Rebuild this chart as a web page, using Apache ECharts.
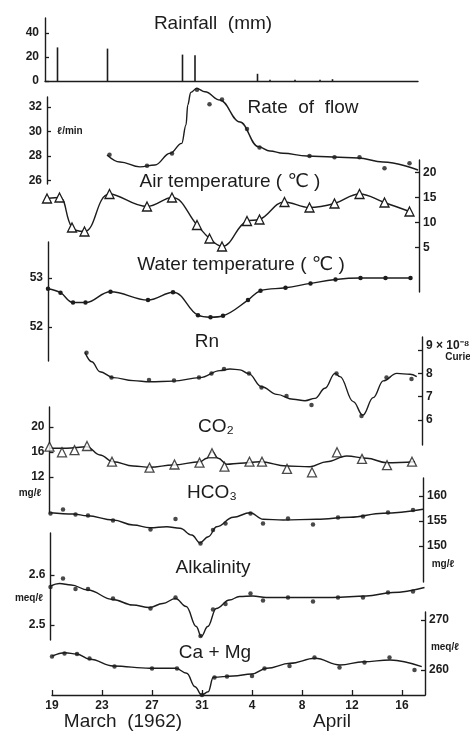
<!DOCTYPE html>
<html>
<head>
<meta charset="utf-8">
<script src="https://cdn.jsdelivr.net/npm/echarts@6/dist/echarts.min.js"></script>
<style>
html, body { margin: 0; background: #fff; }
#main { width: 470px; height: 733px; }
</style>
</head>
<body>
<div id="main"></div>
<script>
// x = days counted from 19 March 1962 (0) to 17 April (29)
var days = [0, 1, 2, 3, 5, 8, 10, 12, 13, 14, 16, 17, 19, 21, 23, 25, 27, 29];
var dateTicks = [0, 4, 8, 12, 16, 20, 24, 28];

var rainDays = [1, 5, 11, 12, 17, 18, 20, 22, 23];
var rainMm = [28, 27, 22, 21.5, 6, 1, 1, 1, 1.5];

var flowDays = [5, 8, 10, 12, 13, 14, 16, 17, 21, 23, 25, 27, 29];
var flowVals = [28.1, 27.2, 28.2, 33.4, 32.2, 32.6, 30.2, 28.7, 28.0, 27.9, 27.9, 27.0, 27.4];
var flowCurveX = [4.8, 5.84, 7.44, 8.64, 9.84, 10.78, 11.12, 11.26, 11.5, 11.98, 12.64, 13.84, 15.44, 16.9, 17.84, 18.88, 20.8, 22.88, 24.88, 26.88, 29.68];
var flowCurveY = [28.08, 27.51, 27.11, 27.27, 28.22, 29.03, 30.52, 32.15, 33.18, 33.5, 33.23, 32.55, 30.76, 28.76, 28.41, 28.22, 28.0, 27.92, 27.84, 27.51, 26.86];

var airVals = [14.8, 15.0, 9.0, 8.2, 15.7, 13.2, 15.0, 9.5, 6.8, 5.2, 10.3, 10.6, 14.1, 13.0, 13.8, 15.7, 14.0, 12.2];

var waterVals = [52.78, 52.70, 52.50, 52.50, 52.72, 52.55, 52.71, 52.24, 52.20, 52.23, 52.55, 52.74, 52.80, 52.89, 52.97, 53.0, 53.0, 53.0];

var rnDays = [3, 5, 8, 10, 12, 13, 14, 16, 17, 19, 21, 23, 25, 27, 29];
var rnVals = [8.88, 7.82, 7.72, 7.69, 7.82, 8.0, 8.19, 8.0, 7.39, 7.03, 6.64, 8.0, 6.17, 7.82, 7.76];
var rnCurveX = [2.88, 3.42, 4.08, 5.14, 6.74, 8.08, 9.94, 12.08, 13.68, 14.48, 15.28, 15.94, 17.02, 18.22, 19.54, 20.48, 21.28, 22.08, 22.88, 23.28, 24.34, 25.1, 25.94, 26.74, 27.82, 28.88, 29.42];
var rnCurveY = [8.9, 8.5, 8.07, 7.82, 7.69, 7.64, 7.67, 7.82, 8.12, 8.19, 8.15, 8.0, 7.43, 7.1, 6.89, 6.83, 6.93, 7.36, 8.0, 7.86, 6.79, 6.21, 6.96, 7.68, 8.0, 7.96, 7.86];

var co2Vals = [16.85, 15.95, 16.3, 16.96, 14.45, 13.5, 14.0, 14.3, 15.8, 13.65, 14.45, 14.45, 13.3, 12.75, 15.95, 14.9, 13.9, 14.45];
var co2CurveX = [0, 1.38, 2.98, 4.04, 5.1, 6.7, 8.04, 9.9, 12.04, 12.58, 13.02, 13.5, 14.18, 15.24, 16.84, 18.98, 20.84, 22.18, 23.78, 25.38, 26.98, 29.24];
var co2CurveY = [16.59, 16.59, 16.85, 15.52, 14.45, 13.76, 13.55, 13.92, 14.45, 14.99, 16.05, 14.99, 14.03, 14.19, 14.45, 13.76, 13.65, 14.45, 15.36, 14.99, 14.29, 14.45];

var hco3Vals = [156.5, 157.3, 156.3, 156.1, 155.1, 153.3, 155.4, 150.5, 153.2, 154.5, 156.5, 154.5, 155.5, 154.3, 155.7, 155.9, 156.7, 157.2];
var hco3CurveX = [0, 1.82, 2.94, 5.02, 6.62, 7.96, 9.3, 10.36, 11.3, 11.96, 12.62, 13.3, 14.62, 15.96, 17.02, 18.62, 21.3, 23.96, 26.62, 29.8];
var hco3CurveY = [156.66, 156.4, 156.06, 155.2, 154.2, 153.66, 153.86, 153.54, 152.2, 150.66, 151.86, 153.86, 155.74, 156.66, 155.34, 155.2, 155.34, 155.74, 156.54, 157.34];

var alkVals = [2.576, 2.593, 2.572, 2.572, 2.553, 2.533, 2.555, 2.478, 2.531, 2.542, 2.563, 2.549, 2.555, 2.547, 2.555, 2.555, 2.565, 2.567];
var alkCurveX = [0, 0.72, 1.66, 2.98, 4.98, 6.58, 7.92, 8.98, 10.0, 10.86, 11.66, 12.06, 12.58, 13.26, 14.32, 15.12, 16.18, 17.26, 19.92, 22.58, 25.26, 27.38, 29.92];
var alkCurveY = [2.578, 2.583, 2.58, 2.57, 2.551, 2.54, 2.535, 2.543, 2.553, 2.537, 2.497, 2.477, 2.497, 2.533, 2.55, 2.557, 2.558, 2.555, 2.555, 2.555, 2.558, 2.565, 2.575];

var camgVals = [262.7, 263.3, 263.2, 262.3, 260.7, 260.3, 260.3, 255.0, 258.5, 258.7, 258.8, 260.3, 260.8, 262.5, 260.5, 261.5, 262.5, 260.0];
var camgCurveX = [0.02, 1.04, 1.98, 3.04, 4.9, 7.84, 9.9, 10.78, 11.44, 11.98, 12.5, 12.9, 14.5, 15.98, 17.18, 19.04, 21.04, 23.04, 24.9, 27.04, 29.58];
var camgCurveY = [262.8, 263.46, 263.2, 262.14, 260.8, 260.34, 260.34, 259.34, 256.66, 255.0, 255.66, 258.54, 258.8, 259.2, 260.34, 261.34, 262.34, 261.0, 261.66, 262.0, 260.66];

var ink = '#1c1c1c';
var pxPerDay = 12.5;

function pairs(xs, ys) {
	return xs.map(function(x, i) { return [x, ys[i]]; });
}

var grids = [], xAxes = [], yAxes = [], series = [];

// one stacked panel = one grid with its own x and y axis
function addPanel(p) {
	var i = grids.length;
	grids.push({ left: p.left, top: p.top, width: p.width, height: p.height, containLabel: false, outerBoundsMode: 'none' });
	xAxes.push({
		type: 'value', gridIndex: i, min: 0, max: p.width / pxPerDay,
		show: !!p.xShow,
		axisLine: { show: true, onZero: false, lineStyle: { color: ink, width: 1.4 } },
		axisTick: { show: !!p.xTicks, inside: true, length: 5, customValues: dateTicks, lineStyle: { color: ink, width: 1.3 } },
		axisLabel: {
			show: !!p.xTicks, customValues: dateTicks, margin: 5,
			color: ink, fontSize: 12, fontWeight: 'bold', fontFamily: 'Liberation Sans',
			formatter: function(v) { return v <= 12 ? String(19 + v) : String(v - 12); }
		},
		splitLine: { show: false }
	});
	yAxes.push({
		type: 'value', gridIndex: i, min: p.min, max: p.max, position: p.side,
		axisLine: { show: true, onZero: false, lineStyle: { color: ink, width: 1.4 } },
		axisTick: { show: true, inside: true, length: 4, customValues: p.ticks, lineStyle: { color: ink, width: 1.3 } },
		axisLabel: {
			customValues: p.ticks, margin: p.margin || 5,
			color: ink, fontSize: 12, fontWeight: 'bold', fontFamily: 'Liberation Sans',
			formatter: p.fmt || function(v) { return String(v); },
			rich: p.rich
		},
		splitLine: { show: false }
	});
	return i;
}

function curve(i, data) {
	series.push({
		type: 'line', xAxisIndex: i, yAxisIndex: i, data: data, clip: false,
		showSymbol: false, smooth: 0.4, smoothMonotone: 'x',
		lineStyle: { color: ink, width: 1.4 }
	});
}
function dots(i, data) {
	series.push({
		type: 'scatter', xAxisIndex: i, yAxisIndex: i, data: data, clip: false,
		symbol: 'circle', symbolSize: 4.5, itemStyle: { color: ink }
	});
}
function triangles(i, data, withLine) {
	series.push({
		type: withLine ? 'line' : 'scatter', xAxisIndex: i, yAxisIndex: i, data: data, clip: false,
		symbol: 'triangle', symbolSize: 9, showSymbol: true, smooth: 0.4,
		lineStyle: { color: ink, width: 1.4 },
		itemStyle: { color: '#fff', borderColor: ink, borderWidth: 1.3 },
		z: 5
	});
}

// rainfall
var pRain = addPanel({ left: 45, top: 18, width: 373, height: 63, min: 0, max: 52.5, ticks: [0, 20, 40], side: 'left', xShow: true, margin: 6 });
series.push({
	type: 'bar', xAxisIndex: pRain, yAxisIndex: pRain, data: pairs(rainDays, rainMm),
	barWidth: 1.6, itemStyle: { color: ink }
});

// rate of flow
var pFlow = addPanel({ left: 47, top: 97, width: 371, height: 87, min: 25.72, max: 32.8, ticks: [26, 28, 30, 32], side: 'left' });
curve(pFlow, pairs(flowCurveX, flowCurveY));
dots(pFlow, pairs(flowDays, flowVals));

// air temperature
var pAir = addPanel({ left: 47, top: 160, width: 372, height: 132, min: -3.9, max: 22.5, ticks: [5, 10, 15, 20], side: 'right', margin: 4 });
triangles(pAir, pairs(days, airVals), true);

// water temperature
var pWater = addPanel({ left: 48, top: 242, width: 372, height: 119, min: 51.306, max: 53.735, ticks: [52, 53], side: 'left' });
series.push({
	type: 'line', xAxisIndex: pWater, yAxisIndex: pWater, data: pairs(days, waterVals),
	symbol: 'circle', symbolSize: 4.5, showSymbol: true, smooth: 0.4,
	lineStyle: { color: ink, width: 1.4 }, itemStyle: { color: ink }
});

// Rn
var pRn = addPanel({ left: 49, top: 337, width: 373, height: 108, min: 4.93, max: 9.56, ticks: [6, 7, 8, 9], side: 'right', margin: 4,
	fmt: function(v) { return v === 9 ? '{up|9 × 10⁻⁸}' : String(v); },
	rich: { up: { color: ink, fontSize: 12, fontWeight: 'bold', fontFamily: 'Liberation Sans', padding: [0, 0, 9, 0] } } });
curve(pRn, pairs(rnCurveX, rnCurveY));
dots(pRn, pairs(rnDays, rnVals));

// CO2
var pCo2 = addPanel({ left: 49.5, top: 407, width: 373, height: 106, min: 6.24, max: 23.2, ticks: [12, 16, 20], side: 'left' });
curve(pCo2, pairs(co2CurveX, co2CurveY));
triangles(pCo2, pairs(days, co2Vals), false);

// HCO3
var pHco3 = addPanel({ left: 50.5, top: 478, width: 372.5, height: 104, min: 142.8, max: 163.6, ticks: [150, 155, 160], side: 'right', margin: 4 });
curve(pHco3, pairs(hco3CurveX, hco3CurveY));
dots(pHco3, pairs(days, hco3Vals));

// alkalinity
var pAlk = addPanel({ left: 50.5, top: 533, width: 374, height: 107, min: 2.47, max: 2.684, ticks: [2.5, 2.6], side: 'left' });
curve(pAlk, pairs(alkCurveX, alkCurveY));
dots(pAlk, pairs(days, alkVals));

// Ca + Mg, carries the date axis
var pCa = addPanel({ left: 52, top: 612, width: 373, height: 83, min: 255, max: 271.6, ticks: [260, 270], side: 'right', margin: 4, xShow: true, xTicks: true });
curve(pCa, pairs(camgCurveX, camgCurveY));
dots(pCa, pairs(days, camgVals));

var titles = [
	['Rainfall  (mm)', 213, 24],
	['Rate  of  flow', 303, 108],
	['Air temperature ( ℃ )', 230, 182],
	['Water temperature ( ℃ )', 241, 265],
	['Rn', 207, 342],
	['CO₂', 216, 427],
	['HCO₃', 212, 493],
	['Alkalinity', 213, 568],
	['Ca + Mg', 215, 653],
	['March  (1962)', 123, 722],
	['April', 332, 722]
];
var units = [
	['ℓ/min', 70, 131],
	['mg/ℓ', 30, 493],
	['meq/ℓ', 29, 598],
	['Curie', 458, 357],
	['mg/ℓ', 443, 564],
	['meq/ℓ', 445, 647]
];

var graphics = titles.map(function(t) {
	return { type: 'text', x: t[1], y: t[2], z: 10, style: {
		text: t[0], fill: ink, font: '19px "Liberation Sans", "DejaVu Sans", "Noto Sans CJK SC"',
		textAlign: 'center', textVerticalAlign: 'middle' } };
}).concat(units.map(function(t) {
	return { type: 'text', x: t[1], y: t[2], z: 10, style: {
		text: t[0], fill: ink, font: 'bold 10px "Liberation Sans", "DejaVu Sans"',
		textAlign: 'center', textVerticalAlign: 'middle' } };
}));

var myChart = echarts.init(document.getElementById('main'));
myChart.setOption({
	backgroundColor: '#fff',
	animation: false,
	grid: grids,
	xAxis: xAxes,
	yAxis: yAxes,
	series: series,
	graphic: graphics
});
</script>
</body>
</html>
